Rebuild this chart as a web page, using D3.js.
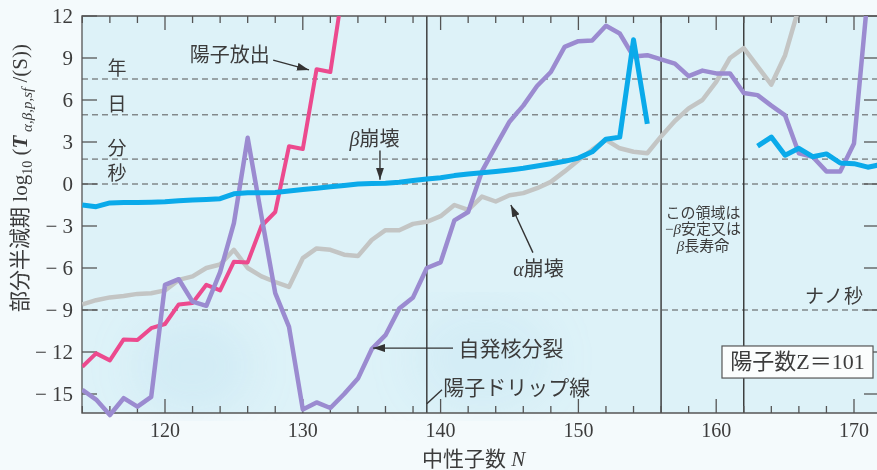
<!DOCTYPE html>
<html>
<head>
<meta charset="utf-8">
<script src="https://cdn.jsdelivr.net/npm/d3@7"></script>
<style>
  html, body { margin: 0; padding: 0; background: #f4fafc; }
  svg { display: block; }
  text { font-family: "Liberation Serif", "Noto Sans CJK JP", serif; fill: #3c3c3c; }
</style>
</head>
<body>
<svg id="chart" width="877" height="470"></svg>
<script>
// Neutron number N (Z = 101 isotopes)
const neutrons = [114,115,116,117,118,119,120,121,122,123,124,125,126,127,128,129,130,131,132,133,
                  134,135,136,137,138,139,140,141,142,143,144,145,146,147,148,149,150,151,152,153,
                  154,155,156,157,158,159,160,161,162,163,164,165,166,167,168,169,170,171,172];

// log10 partial half-lives (s); null = no value
const betaDecay = [-1.5,-1.62,-1.35,-1.33,-1.33,-1.3,-1.27,-1.2,-1.15,-1.1,-1.05,-0.7,-0.62,-0.62,-0.6,-0.5,-0.4,-0.3,-0.2,-0.1,
                   0.0,0.03,0.05,0.12,0.25,0.35,0.45,0.6,0.72,0.8,0.9,1.0,1.12,1.28,1.45,1.62,1.85,2.3,3.2,3.35,
                   10.3,4.3,null,null,null,null,null,null,null,2.7,3.35,2.05,2.55,1.95,2.15,1.5,1.45,1.2,1.4];

const protonEmission = [-13.05,-12.1,-12.6,-11.1,-11.15,-10.3,-10.0,-8.6,-8.5,-7.2,-7.6,-5.55,-5.6,-3.0,-2.0,2.7,2.5,8.2,8.0,14.5,
                        null,null,null,null,null,null,null,null,null,null,null,null,null,null,null,null,null,null,null,null,
                        null,null,null,null,null,null,null,null,null,null,null,null,null,null,null,null,null,null,null];

const alphaDecay = [-8.6,-8.3,-8.1,-8.0,-7.85,-7.8,-7.6,-6.85,-6.6,-6.0,-5.75,-4.7,-6.0,-6.6,-7.0,-7.35,-5.3,-4.6,-4.7,-5.05,
                    -5.15,-4.0,-3.3,-3.3,-2.85,-2.7,-2.3,-1.5,-1.85,-0.9,-1.25,-0.8,-0.65,-0.3,0.15,0.9,1.7,2.45,3.15,2.55,
                    2.3,2.2,3.4,4.5,5.4,6.0,7.3,9.0,9.7,8.4,7.1,9.2,12.6,null,null,null,null,null,null];

const spontaneousFission = [-14.7,-15.4,-16.5,-15.3,-15.9,-15.2,-7.2,-6.8,-8.4,-8.7,-6.3,-2.8,3.3,-2.3,-7.8,-10.2,-16.1,-15.6,-16.0,-15.0,
                            -13.9,-11.8,-10.8,-8.9,-8.1,-6.0,-5.6,-2.6,-2.0,0.9,2.7,4.45,5.6,7.0,8.0,9.8,10.2,10.25,11.3,10.75,
                            9.1,9.2,8.9,8.6,7.7,8.1,7.9,7.9,6.5,6.35,5.6,4.9,2.2,1.95,0.9,0.9,2.9,13.5,null];

// Axis ticks
const yTickValues = [-15,-12,-9,-6,-3,0,3,6,9,12];
const xTickLabels = [120,130,140,150,160,170];
const xMinorTicks = [114,116,118,120,122,124,126,128,130,132,134,136,138,140,142,144,146,148,150,
                     152,154,156,158,160,162,164,166,168,170];

// Time-unit reference levels (log10 seconds)
const timeUnitNames = ["年","日","分","秒"];
const timeUnitValues = [7.5, 4.94, 1.78, 0];
const nanoSecondValue = -9;

// Boundaries: proton drip line and the beta-stable / long-lived region
const boundaryN = [139, 156, 162];

const svg = d3.select("#chart");
const plotLeft = 82, plotTop = 16, plotRight = 878, plotBottom = 413;

const x = d3.scaleLinear().domain([120, 170]).range([165, 854]);
const y = d3.scaleLinear().domain([0, 12]).range([184, 16]);

// plot background
svg.append("rect").attr("x", plotLeft).attr("y", plotTop)
  .attr("width", plotRight - plotLeft).attr("height", plotBottom - plotTop)
  .attr("fill", "#ddf2f8");

const defs = svg.append("defs");
defs.append("filter").attr("id", "soft").append("feGaussianBlur").attr("stdDeviation", 20);
defs.append("clipPath").attr("id", "plotClip").append("rect")
  .attr("x", plotLeft).attr("y", plotTop).attr("width", plotRight - plotLeft).attr("height", plotBottom - plotTop + 8);
const marker = defs.append("marker").attr("id", "arrow").attr("viewBox", "0 0 12 8")
  .attr("refX", 12).attr("refY", 4).attr("markerWidth", 12).attr("markerHeight", 8)
  .attr("markerUnits", "userSpaceOnUse").attr("orient", "auto");
marker.append("path").attr("d", "M0,0 L12,4 L0,8 Z").attr("fill", "#333");

// soft printed blotches
const blobs = svg.append("g").attr("clip-path", "url(#plotClip)").attr("filter", "url(#soft)");
blobs.append("ellipse").attr("cx", x(122)).attr("cy", y(-13)).attr("rx", 60).attr("ry", 50)
  .attr("fill", "#b4dcf0").attr("opacity", 0.25);
blobs.append("ellipse").attr("cx", x(143)).attr("cy", y(-12.5)).attr("rx", 70).attr("ry", 55)
  .attr("fill", "#b4dcf0").attr("opacity", 0.2);

// reference dashed levels
const dashG = svg.append("g");
timeUnitValues.concat([nanoSecondValue]).forEach(v => {
  dashG.append("line").attr("x1", plotLeft).attr("x2", plotRight).attr("y1", y(v)).attr("y2", y(v))
    .attr("stroke", "#555").attr("stroke-width", 1).attr("stroke-dasharray", "6,4");
});

// vertical boundary lines
boundaryN.forEach(n => {
  svg.append("line").attr("x1", x(n)).attr("x2", x(n)).attr("y1", plotTop).attr("y2", plotBottom)
    .attr("stroke", "#333").attr("stroke-width", 1.4);
});

// axes frame and ticks
const axisColor = "#555";
const frame = svg.append("g").attr("stroke", axisColor).attr("stroke-width", 1.3).attr("fill", "none");
frame.append("path").attr("d", `M${plotRight},${plotTop} H${plotLeft} V${plotBottom} H${plotRight} V${plotTop}`);

xMinorTicks.forEach(n => {
  const len = (n % 10 === 0) ? 14 : 7;
  frame.append("line").attr("x1", x(n)).attr("x2", x(n)).attr("y1", plotBottom).attr("y2", plotBottom - len);
  frame.append("line").attr("x1", x(n)).attr("x2", x(n)).attr("y1", plotTop).attr("y2", plotTop + len);
});
yTickValues.forEach(v => {
  frame.append("line").attr("x1", plotLeft).attr("x2", plotLeft + 15).attr("y1", y(v)).attr("y2", y(v));
  frame.append("line").attr("x1", plotRight).attr("x2", plotRight - 14).attr("y1", y(v)).attr("y2", y(v));
});

// tick labels
svg.append("g").selectAll("text").data(yTickValues).join("text")
  .attr("x", 73).attr("y", d => y(d) + 7).attr("text-anchor", "end")
  .attr("font-size", 21)
  .text(d => d < 0 ? "\u2212 " + Math.abs(d) : String(d));
svg.append("g").selectAll("text").data(xTickLabels).join("text")
  .attr("x", d => x(d)).attr("y", 437).attr("text-anchor", "middle")
  .attr("font-size", 20).text(d => d);

// axis titles
svg.append("text").attr("x", x(142.4)).attr("y", 466).attr("text-anchor", "middle").attr("font-size", 21)
  .call(t => {
    t.append("tspan").text("中性子数 ");
    t.append("tspan").attr("font-style", "italic").text("N");
  });

const yTitle = svg.append("text").attr("transform", "translate(27,178) rotate(-90)")
  .attr("text-anchor", "middle").attr("font-size", 21);
yTitle.append("tspan").text("部分半減期 log");
yTitle.append("tspan").attr("font-size", 14).attr("dy", 5).text("10");
yTitle.append("tspan").attr("dy", -5).text(" (");
yTitle.append("tspan").attr("font-style", "italic").attr("font-weight", "bold").text("T");
yTitle.append("tspan").attr("font-size", 15).attr("font-style", "italic").attr("dy", 5).text(" α,β,p,sf");
yTitle.append("tspan").attr("dy", -5).text("  /(S))");

// time-unit labels
timeUnitNames.forEach((name, i) => {
  svg.append("text").attr("x", 117).attr("y", y(timeUnitValues[i]) - 4).attr("text-anchor", "middle")
    .attr("font-size", 19).text(name);
});
svg.append("text").attr("x", 864).attr("y", y(nanoSecondValue) - 7).attr("text-anchor", "end")
  .attr("font-size", 19).attr("letter-spacing", 1).text("ナノ秒");

// decay-mode curves
const plot = svg.append("g").attr("clip-path", "url(#plotClip)");
const line = d3.line().defined(d => d[1] !== null).x(d => x(d[0])).y(d => y(d[1]));
const series = [
  { values: alphaDecay, color: "#c3c5c4", width: 4.5 },
  { values: protonEmission, color: "#ec4a8e", width: 4 },
  { values: spontaneousFission, color: "#9b8bd0", width: 4.5 },
  { values: betaDecay, color: "#0aaaea", width: 5 }
];
series.forEach(s => {
  plot.append("path").datum(neutrons.map((n, i) => [n, s.values[i]]))
    .attr("d", line).attr("fill", "none").attr("stroke", s.color)
    .attr("stroke-width", s.width).attr("stroke-linejoin", "round").attr("stroke-linecap", "butt");
});

// annotations
const ann = svg.append("g");
function arrow(n1, v1, n2, v2, head = true) {
  const l = ann.append("line").attr("x1", x(n1)).attr("y1", y(v1)).attr("x2", x(n2)).attr("y2", y(v2))
    .attr("stroke", "#333").attr("stroke-width", 1.4);
  if (head) l.attr("marker-end", "url(#arrow)");
}
function label(n, v, txt, anchor = "middle", size = 20) {
  return ann.append("text").attr("x", x(n)).attr("y", y(v)).attr("text-anchor", anchor)
    .attr("font-size", size).text(txt);
}
label(124.7, 8.75, "陽子放出");
arrow(127.85, 8.85, 130.45, 8.15);

ann.append("text").attr("x", x(135.2)).attr("y", y(2.7)).attr("text-anchor", "middle").attr("font-size", 20)
  .call(t => { t.append("tspan").attr("font-style", "italic").text("β"); t.append("tspan").text("崩壊"); });
arrow(135.6, 2.4, 135.6, 0.3);

ann.append("text").attr("x", x(147.1)).attr("y", y(-6.6)).attr("text-anchor", "middle").attr("font-size", 20)
  .call(t => { t.append("tspan").attr("font-style", "italic").text("α"); t.append("tspan").text("崩壊"); });
arrow(146.7, -4.9, 145.1, -1.5);

label(141.3, -12.3, "自発核分裂", "start", 21);
arrow(140.9, -11.72, 135.1, -11.72);

label(140.2, -15.05, "陽子ドリップ線", "start", 21);
arrow(140.1, -14.7, 139.0, -15.7, false);

const note = ann.append("g");
note.append("text").attr("x", x(159.05)).attr("y", y(-2.4)).attr("text-anchor", "middle").attr("font-size", 15).text("この領域は");
note.append("text").attr("x", x(159.05)).attr("y", y(-3.55)).attr("text-anchor", "middle").attr("font-size", 15)
  .call(t => { t.append("tspan").text("\u2212"); t.append("tspan").attr("font-style", "italic").text("β"); t.append("tspan").text("安定又は"); });
note.append("text").attr("x", x(159.05)).attr("y", y(-4.75)).attr("text-anchor", "middle").attr("font-size", 15)
  .call(t => { t.append("tspan").attr("font-style", "italic").text("β"); t.append("tspan").text("長寿命"); });

// proton-number box
ann.append("rect").attr("x", x(160.42)).attr("y", y(-11.57)).attr("width", x(171.38) - x(160.42))
  .attr("height", y(-13.86) - y(-11.57)).attr("fill", "#fbfdfd").attr("stroke", "#555").attr("stroke-width", 1.2);
label(165.9, -13.2, "陽子数Z＝101", "middle", 22);
</script>
</body>
</html>
